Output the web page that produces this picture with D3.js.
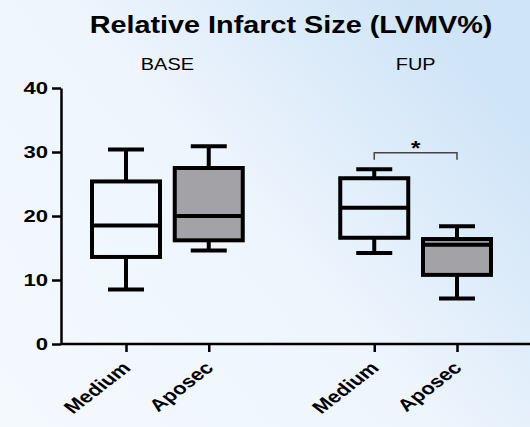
<!DOCTYPE html>
<html lang="en">
<head>
<meta charset="UTF-8">
<title>Relative Infarct Size</title>
<script src="https://cdn.jsdelivr.net/npm/d3@7"></script>
<style>
  * { margin: 0; padding: 0; }
  body { width: 530px; height: 427px; overflow: hidden; }
  svg { display: block; font-family: "Liberation Sans", Arial, sans-serif; }
</style>
</head>
<body>
<svg></svg>
<script>
// data
const groups = ["BASE", "FUP"]
const groupSlots = [0.5, 3.5]
const labels = ["Medium", "Aposec", "Medium", "Aposec"]
const slots = [0, 1, 3, 4]
const whiskerLow = [8.5, 14.6, 14.2, 7.1]
const q1 = [13.6, 16.2, 16.6, 10.8]
const median = [18.5, 20.0, 21.3, 15.5]
const q3 = [25.4, 27.5, 25.9, 16.4]
const whiskerHigh = [30.4, 30.9, 27.3, 18.4]
const fills = ["none", "#a3a3a7", "none", "#a3a3a7"]
const yTicks = [0, 10, 20, 30, 40]

const W = 530, H = 427
const svg = d3.select('svg').attr('width', W).attr('height', H)

// background gradient
const defs = svg.append('defs')
const grad = defs.append('linearGradient').attr('id', 'bg')
    .attr('x1', '0').attr('y1', '1').attr('x2', '1').attr('y2', '0.3')
grad.append('stop').attr('offset', '0').attr('stop-color', '#f4f9fe')
grad.append('stop').attr('offset', '0.55').attr('stop-color', '#eef5fd')
grad.append('stop').attr('offset', '1').attr('stop-color', '#cfe4f7')
svg.append('rect').attr('width', W).attr('height', H).attr('fill', 'url(#bg)')

const x = d3.scaleLinear().domain([0, 4]).range([126, 457])
const y = d3.scaleLinear().domain([0, 40]).range([344, 88])
const boxW = 68, capW = 36

// the source picture is a bit stretched sideways, so text is widened too
// title
svg.append('text').attr('transform', 'translate(291,33) scale(1.2,1)')
    .attr('text-anchor', 'middle').attr('font-weight', 'bold').attr('font-size', 24)
    .text('Relative Infarct Size (LVMV%)')

// group labels
svg.selectAll('.grp').data(groups).join('text')
    .attr('transform', (d, i) => `translate(${x(groupSlots[i])},70) scale(1.17,1)`)
    .attr('text-anchor', 'middle').attr('font-size', 17)
    .text(d => d)

// y axis
const yAxis = svg.append('g').attr('transform', 'translate(61,0)')
    .call(d3.axisLeft(y).tickValues(yTicks).tickSize(9).tickSizeOuter(0))
yAxis.selectAll('path, line').attr('stroke', '#000').attr('stroke-width', 2.5)
yAxis.selectAll('text').attr('font-size', 17).attr('font-weight', 'bold').attr('fill', '#000')
    .attr('font-family', '"Liberation Sans", Arial, sans-serif')
    .attr('x', 0).attr('transform', 'translate(-13,0) scale(1.3,1)')

// x axis
const xAxis = svg.append('g').attr('transform', 'translate(0,344)')
    .call(d3.axisBottom(x).tickValues(slots).tickSize(8).tickSizeOuter(0).tickFormat(''))
xAxis.select('.domain').attr('d', 'M61,0H530')
xAxis.selectAll('path, line').attr('stroke', '#000').attr('stroke-width', 2.5)

svg.selectAll('.xlab').data(labels).join('text')
    .attr('transform', (d, i) => `translate(${x(slots[i]) + 6},369) scale(1.3,1) rotate(-45)`)
    .attr('text-anchor', 'end').attr('font-size', 17).attr('font-weight', 'bold')
    .text(d => d)

// boxes
const boxes = svg.selectAll('.box').data(labels).join('g')
    .attr('transform', (d, i) => `translate(${x(slots[i])},0)`)
    .attr('stroke', '#000').attr('stroke-width', 4)

boxes.append('line').attr('x1', 0).attr('x2', 0)
    .attr('y1', (d, i) => y(whiskerHigh[i])).attr('y2', (d, i) => y(q3[i]))
boxes.append('line').attr('x1', 0).attr('x2', 0)
    .attr('y1', (d, i) => y(q1[i])).attr('y2', (d, i) => y(whiskerLow[i]))
boxes.append('line').attr('x1', -capW / 2).attr('x2', capW / 2)
    .attr('y1', (d, i) => y(whiskerHigh[i])).attr('y2', (d, i) => y(whiskerHigh[i]))
boxes.append('line').attr('x1', -capW / 2).attr('x2', capW / 2)
    .attr('y1', (d, i) => y(whiskerLow[i])).attr('y2', (d, i) => y(whiskerLow[i]))
boxes.append('rect').attr('x', -boxW / 2).attr('width', boxW)
    .attr('y', (d, i) => y(q3[i])).attr('height', (d, i) => y(q1[i]) - y(q3[i]))
    .attr('fill', (d, i) => fills[i])
boxes.append('line').attr('x1', -boxW / 2).attr('x2', boxW / 2)
    .attr('y1', (d, i) => y(median[i])).attr('y2', (d, i) => y(median[i]))

// significance bracket FUP
const sigY = y(29.9)
svg.append('path')
    .attr('d', `M${x(3)},${sigY + 7}V${sigY}H${x(4)}V${sigY + 7}`)
    .attr('fill', 'none').attr('stroke', '#444').attr('stroke-width', 1.5)
svg.append('text').attr('transform', `translate(${(x(3) + x(4)) / 2},${sigY + 2}) scale(1.2,1)`)
    .attr('text-anchor', 'middle').attr('font-size', 20).attr('font-weight', 'bold').text('*')
</script>
</body>
</html>
